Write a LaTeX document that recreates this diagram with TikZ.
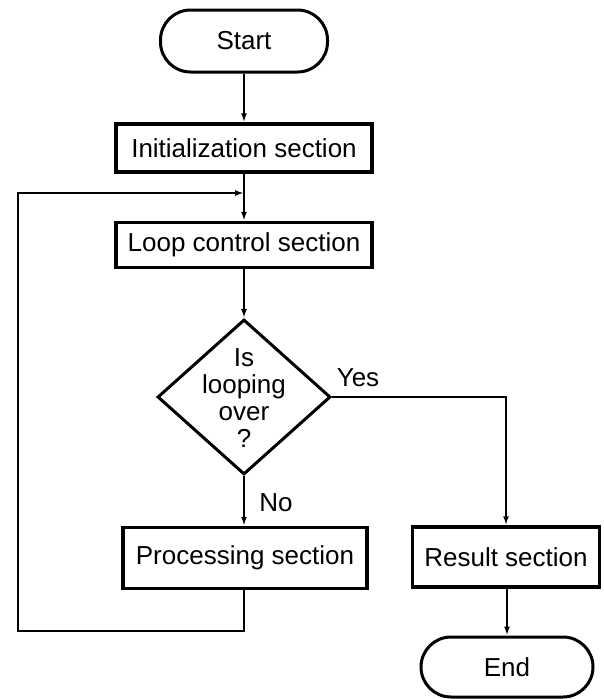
\documentclass[tikz,border=0pt]{standalone}
\usepackage{fontspec}
\setmainfont{Liberation Sans}
\usetikzlibrary{shapes.geometric,arrows.meta}
\begin{document}
\begin{tikzpicture}[x=1pt,y=-1pt,
  every node/.style={font=\fontsize{26}{27}\selectfont},
  box/.style={draw, line width=3.5pt, rectangle, inner sep=0pt},
  term/.style={draw, line width=3pt, rectangle, rounded corners=30pt, inner sep=0pt},
  conn/.style={line width=2.2pt, -{Latex[length=9pt,width=6pt]}}
]
\useasboundingbox (0,0) rectangle (603,699);
\node[term, minimum width=167pt, minimum height=62pt] (start) at (244,41) {Start};
\node[box, minimum width=256pt, minimum height=48pt] (init) at (244,148) {Initialization section};
\node[box, minimum width=256pt, minimum height=45pt] (loop) at (244,245) {Loop control section};
\node[diamond, draw, line width=3pt, minimum width=173pt, minimum height=155pt, inner sep=0pt] (dec) at (244,397) {};
\node[align=center, inner sep=0pt] (dect) at (244,398) {Is\\looping\\over\\?};
\node[box, minimum width=244pt, minimum height=61pt] (proc) at (245,558) {Processing section};
\node[box, minimum width=187pt, minimum height=60pt] (result) at (506,557) {Result section};
\node[term, minimum width=172pt, minimum height=60pt] (end) at (507,667) {End};
\node[inner sep=0pt] (yes) at (358,378) {Yes};
\node[inner sep=0pt] (no) at (276,503) {No};
\coordinate (lb) at (18,631);
\coordinate (j) at (244,193);

\draw[conn] (start) -- (init);
\draw[conn] (init) -- (loop);
\draw[conn] (loop) -- (dec);
\draw[conn] (dec) -- (dec.south |- proc.north);
\draw[conn] (dec.east) -| (result.north);
\draw[conn] (result) -- (result.south -| end.north) -- (end.north);
\draw[conn] (proc.south -| dec.south) |- (lb) |- (j);
\end{tikzpicture}
\end{document}
